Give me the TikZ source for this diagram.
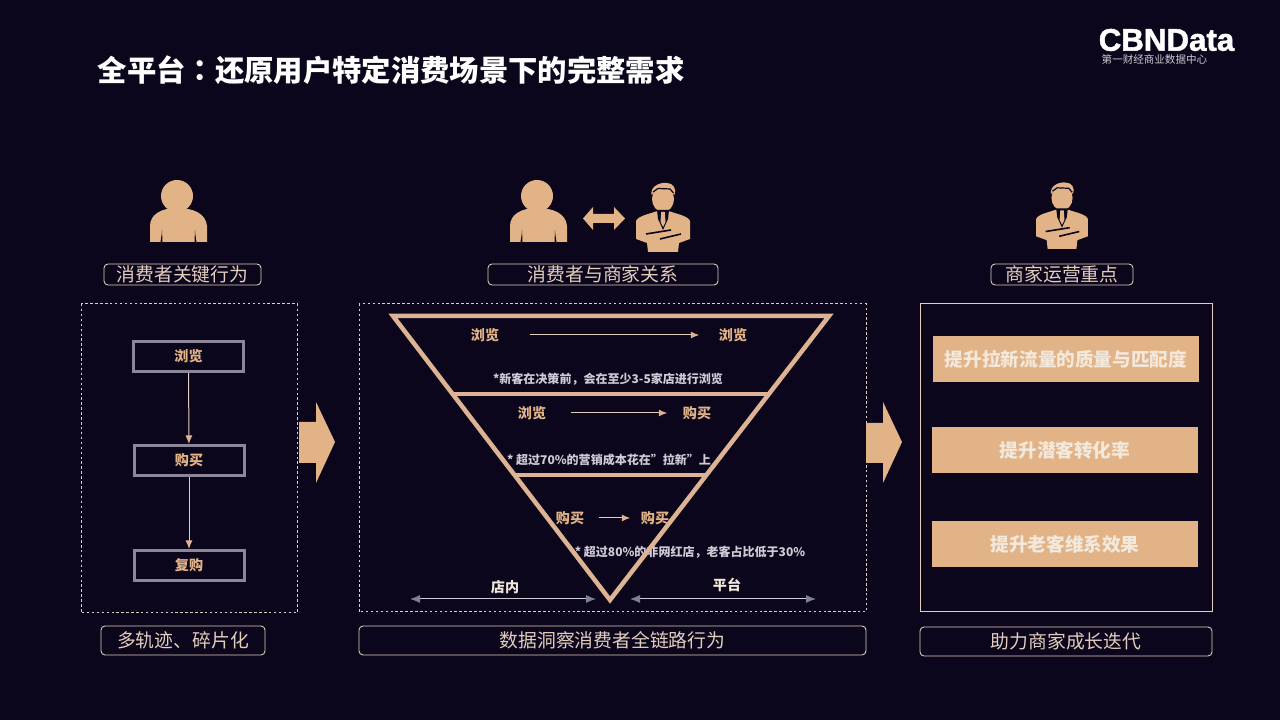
\documentclass[tikz,border=0pt]{standalone}
\usepackage{fontspec}
\usepackage{xcolor}
\setmainfont{Noto Sans CJK SC}
\newfontfamily\colonfont{Noto Sans CJK TC}
\newfontfamily\logofont[BoldFeatures={FakeBold=1.6}]{Liberation Sans}
\usetikzlibrary{arrows.meta}
\definecolor{CBBack}{HTML}{0B061B}
\definecolor{CBTan}{HTML}{E2B387}
\definecolor{CBLine}{HTML}{DDB393}
\definecolor{CBEdge}{HTML}{E3CDBF}
\definecolor{CBGrey}{HTML}{8C8798}
\definecolor{CBTip}{HTML}{7F8094}
\definecolor{CBNote}{HTML}{CFCAD6}
\definecolor{CBPale}{HTML}{F2E8DC}
\tikzset{
  tagbox/.style={draw=CBEdge,line width=.25mm*.35,rounded corners=.04cm,inner sep=0pt,text=CBEdge,font=\fontsize{5.35}{6}\selectfont},
  stepbox/.style={draw=CBGrey,line width=.03cm,minimum width=1.10cm,minimum height=.30cm,inner sep=0pt,text=CBTan,font=\fontsize{4}{5}\selectfont\bfseries},
  goalbox/.style={fill=CBTan,minimum width=2.66cm,minimum height=.46cm,inner sep=0pt,text=CBPale,font=\fontsize{5.3}{6}\selectfont\bfseries},
  stagetext/.style={inner sep=0pt,text=CBTan,font=\fontsize{4}{5}\selectfont\bfseries},
  notetext/.style={inner sep=0pt,text=CBNote,font=\fontsize{3.42}{4}\selectfont\bfseries},
  sidetext/.style={inner sep=0pt,text=CBPale,font=\fontsize{4}{5}\selectfont\bfseries},
  framedash/.style={draw=CBEdge,line width=.1mm,dash pattern=on .7pt off .7pt},
  thinarrow/.style={draw=CBEdge,line width=.1mm,-{Latex[length=.085cm,width=.07cm,color=CBLine]}},
  spanarrow/.style={draw=CBNote,line width=.1mm,{Latex[length=.1cm,width=.08cm,color=CBTip]}-{Latex[length=.1cm,width=.08cm,color=CBTip]}},
  shopper/.pic={
    \fill[CBTan] (0,0) circle (.16);
    \fill[CBTan] (-.27,-.46) -- (-.27,-.30) .. controls (-.27,-.18) and (-.15,-.12) .. (0,-.12)
      .. controls (.17,-.12) and (.29,-.18) .. (.30,-.30) -- (.30,-.46) -- cycle;
    \fill[CBBack] (-.165,-.46) .. controls (-.155,-.40) and (-.15,-.36) .. (-.15,-.34) -- (-.145,-.46) -- cycle;
    \fill[CBBack] (.195,-.46) .. controls (.185,-.40) and (.18,-.36) .. (.18,-.34) -- (.175,-.46) -- cycle;
  },
  merchant/.pic={
    \fill[CBTan] (0,-.02) ellipse (.11 and .13);
    \fill[CBTan] (-.115,.02) .. controls (-.13,.10) and (-.04,.15) .. (.04,.14) .. controls (.10,.14) and (.14,.08) .. (.115,.02) -- (.06,.08) -- (-.07,.07) -- cycle;
    \draw[CBBack,line width=.012cm] (-.10,.05) -- (-.05,.085) -- (.07,.08) -- (.105,.04);
    \fill[CBTan] (-.27,-.24) .. controls (-.25,-.19) and (-.14,-.17) .. (-.07,-.145) -- (.07,-.145)
      .. controls (.14,-.17) and (.25,-.19) .. (.27,-.24) -- (.27,-.42) -- (.16,-.46) -- (.15,-.55)
      -- (-.15,-.55) -- (-.16,-.46) -- (-.27,-.42) -- cycle;
    \fill[CBBack] (-.06,-.13) -- (.06,-.13) -- (.05,-.22) -- (0,-.33) -- (-.05,-.22) -- cycle;
    \fill[CBTan] (-.018,-.15) -- (.018,-.15) -- (.025,-.25) -- (0,-.30) -- (-.025,-.25) -- cycle;
    \draw[CBBack,line width=.016cm] (-.17,-.37) -- (.08,-.33);
    \draw[CBBack,line width=.016cm] (-.03,-.42) -- (.18,-.37);
  },
}
\begin{document}
\begin{tikzpicture}[x=1cm,y=1cm]
\path[use as bounding box] (0,0) rectangle (12.80,7.20);
\fill[CBBack] (0,0) rectangle (12.80,7.20);
% heading and logo
\node[anchor=west,inner sep=0pt,text=white,font=\fontsize{8.35}{10}\selectfont\bfseries] (heading) at (0.97,6.50) {全平台{\colonfont ：}还原用户特定消费场景下的完整需求};
\node[anchor=west,inner sep=0pt,text=white,font=\logofont\fontsize{8.9}{10}\selectfont\bfseries] (logo) at (10.98,6.80) {CBNData};
\node[anchor=west,inner sep=0pt,text=CBNote,font=\fontsize{3}{4}\selectfont] (logosub) at (11.01,6.60) {第一财经商业数据中心};
% icons
\pic at (1.77,5.24) {shopper};
\pic at (5.37,5.24) {shopper};
\pic at (6.63,5.23) {merchant};
\pic[scale=.96] at (10.62,5.24) {merchant};
\fill[CBTan] (5.83,5.015) -- (5.93,5.13) -- (5.93,5.06) -- (6.14,5.06) -- (6.14,5.13) -- (6.25,5.015)
  -- (6.14,4.90) -- (6.14,4.97) -- (5.93,4.97) -- (5.93,4.90) -- cycle;
% upper tags
\node[tagbox,minimum width=1.57cm,minimum height=.21cm] (tagbehave) at (1.825,4.455) {消费者关键行为};
\node[tagbox,minimum width=2.30cm,minimum height=.21cm] (tagrelate) at (6.03,4.455) {消费者与商家关系};
\node[tagbox,minimum width=1.42cm,minimum height=.21cm] (tagfocus) at (10.62,4.455) {商家运营重点};
% frames
\draw[framedash] (0.81,4.16) rectangle (2.97,1.07);
\draw[framedash] (3.59,4.16) rectangle (8.66,1.08);
\draw[CBEdge,line width=.1mm] (9.20,4.16) rectangle (12.12,1.08);
% left column
\node[stepbox] (browse) at (1.885,3.635) {浏览};
\node[stepbox] (buy) at (1.89,2.595) {购买};
\node[stepbox] (rebuy) at (1.89,1.545) {复购};
\draw[thinarrow] (browse) -- (buy);
\draw[thinarrow] (buy) -- (rebuy);
% block arrows
\fill[CBTan] (2.99,2.98) -- (3.16,2.98) -- (3.16,3.18) -- (3.35,2.78) -- (3.16,2.37) -- (3.16,2.57) -- (2.99,2.57) -- cycle;
\fill[CBTan] (8.66,2.97) -- (8.83,2.97) -- (8.83,3.18) -- (9.02,2.78) -- (8.83,2.37) -- (8.83,2.57) -- (8.66,2.57) -- cycle;
% funnel texts
\node[stagetext] (topa) at (4.85,3.85) {浏览};
\node[stagetext] (topb) at (7.33,3.85) {浏览};
\draw[thinarrow,shorten <=.30cm,shorten >=.19cm] (topa) -- (topb);
\node[notetext] (notetop) at (6.08,3.41) {*新客在决策前，会在至少3-5家店进行浏览};
\node[stagetext] (mida) at (5.32,3.07) {浏览};
\node[stagetext] (midb) at (6.97,3.07) {购买};
\draw[thinarrow,shorten <=.24cm,shorten >=.15cm] (mida) -- (midb);
\node[notetext] (notemid) at (6.09,2.60) {* 超过70\%的营销成本花在”拉新”上};
\node[stagetext] (lowa) at (5.70,2.02) {购买};
\node[stagetext] (lowb) at (6.55,2.02) {购买};
\draw[thinarrow,shorten <=.14cm,shorten >=.10cm] (lowa) -- (lowb);
\node[notetext] (notelow) at (6.90,1.68) {* 超过80\%的非网红店，老客占比低于30\%};
% funnel
\draw[CBLine,line width=.045cm,line join=miter] (3.93,4.04) -- (8.29,4.04) -- (6.10,1.20) -- cycle;
\draw[CBLine,line width=.045cm] (4.51,3.26) -- (7.70,3.26);
\draw[CBLine,line width=.045cm] (5.14,2.45) -- (7.07,2.45);
% bottom of funnel
\node[sidetext] (instore) at (5.05,1.33) {店内};
\node[sidetext] (platform) at (7.27,1.35) {平台};
\coordinate (storeL) at (4.10,1.21);
\coordinate (storeR) at (5.96,1.21);
\coordinate (platL) at (6.30,1.21);
\coordinate (platR) at (8.16,1.21);
\draw[spanarrow] (storeL) -- (storeR);
\draw[spanarrow] (platL) -- (platR);
% right column
\node[goalbox] (goalone) at (10.66,3.61) {提升拉新流量的质量与匹配度};
\node[goalbox] (goaltwo) at (10.65,2.70) {提升潜客转化率};
\node[goalbox] (goalthree) at (10.65,1.76) {提升老客维系效果};
% lower tags
\node[tagbox,minimum width=1.64cm,minimum height=.29cm] (tagtrack) at (1.83,0.795) {多轨迹、碎片化};
\node[tagbox,minimum width=5.07cm,minimum height=.29cm] (taginsight) at (6.125,0.795) {数据洞察消费者全链路行为};
\node[tagbox,minimum width=2.92cm,minimum height=.29cm] (taggrow) at (10.66,0.785) {助力商家成长迭代};
\end{tikzpicture}
\end{document}
